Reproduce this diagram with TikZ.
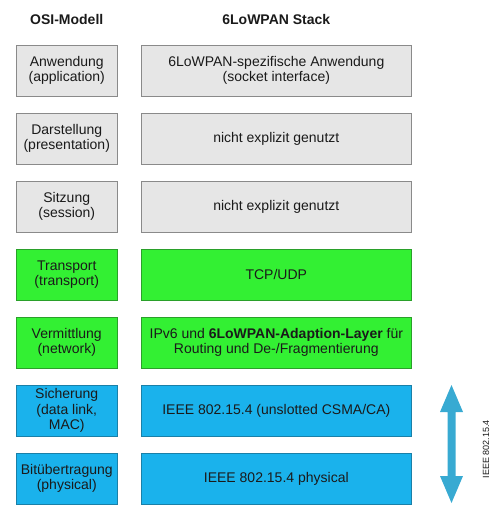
\documentclass[tikz,border=0pt]{standalone}
\usepackage{fontspec}
\setmainfont{Liberation Sans}
\definecolor{grayfill}{HTML}{E6E6E6}
\definecolor{grayline}{HTML}{8A8A8A}
\definecolor{greenfill}{HTML}{33F033}
\definecolor{greenline}{HTML}{2AA02A}
\definecolor{bluefill}{HTML}{1AB2EC}
\definecolor{blueline}{HTML}{1A80A8}
\definecolor{arrowblue}{HTML}{38AAD2}
\definecolor{txt}{HTML}{1A1A1A}
\begin{document}
\begin{tikzpicture}[x=1pt,y=-1pt,
  layer/.style={draw, line width=0.8pt, inner sep=0pt, align=center, text=txt,
    font=\fontsize{14}{15.5}\selectfont},
  osi/.style={layer, minimum width=100.5pt, minimum height=51pt},
  stack/.style={layer, minimum width=270pt, minimum height=51pt},
  grayL/.style={fill=grayfill, draw=grayline},
  greenL/.style={fill=greenfill, draw=greenline},
  blueL/.style={fill=bluefill, draw=blueline},
  header/.style={font=\bfseries\fontsize{14}{16}\selectfont, text=txt, inner sep=0pt}]
\useasboundingbox (0,0) rectangle (495,512);
\node[header] (h1) at (66.75,19) {OSI-Modell};
\node[header] (h2) at (276.3,19) {6LoWPAN Stack};

\node[osi,grayL] (o1) at (66.75,70.5) {Anwendung\\(application)};
\node[stack,grayL] (s1) at (276.3,70.5) {6LoWPAN-spezifische Anwendung\\(socket interface)};
\node[osi,grayL] (o2) at (66.75,138.5) {Darstellung\\(presentation)};
\node[stack,grayL] (s2) at (276.3,138.5) {nicht explizit genutzt};
\node[osi,grayL] (o3) at (66.75,206.5) {Sitzung\\(session)};
\node[stack,grayL] (s3) at (276.3,206.5) {nicht explizit genutzt};
\node[osi,greenL] (o4) at (66.75,274.5) {Transport\\(transport)};
\node[stack,greenL] (s4) at (276.3,274.5) {TCP/UDP};
\node[osi,greenL] (o5) at (66.75,342.5) {Vermittlung\\(network)};
\node[stack,greenL] (s5) at (276.3,342.5) {IPv6 und \textbf{6LoWPAN-Adaption-Layer} für\\Routing und De-/Fragmentierung};
\node[osi,blueL] (o6) at (66.75,410.5) {Sicherung\\(data link,\\MAC)};
\node[stack,blueL] (s6) at (276.3,410.5) {IEEE 802.15.4 (unslotted CSMA/CA)};
\node[osi,blueL] (o7) at (66.75,478.5) {Bitübertragung\\(physical)};
\node[stack,blueL] (s7) at (276.3,478.5) {IEEE 802.15.4 physical};

\fill[arrowblue] (451.5,385) -- (463,412) -- (455.5,412) -- (455.5,476) -- (463,476)
  -- (451.5,503) -- (440,476) -- (447.5,476) -- (447.5,412) -- (440,412) -- cycle;
\node[rotate=90, font=\fontsize{9}{10}\selectfont, text=txt, inner sep=0pt] (lbl) at (486,449) {IEEE 802.15.4};
\end{tikzpicture}
\end{document}
